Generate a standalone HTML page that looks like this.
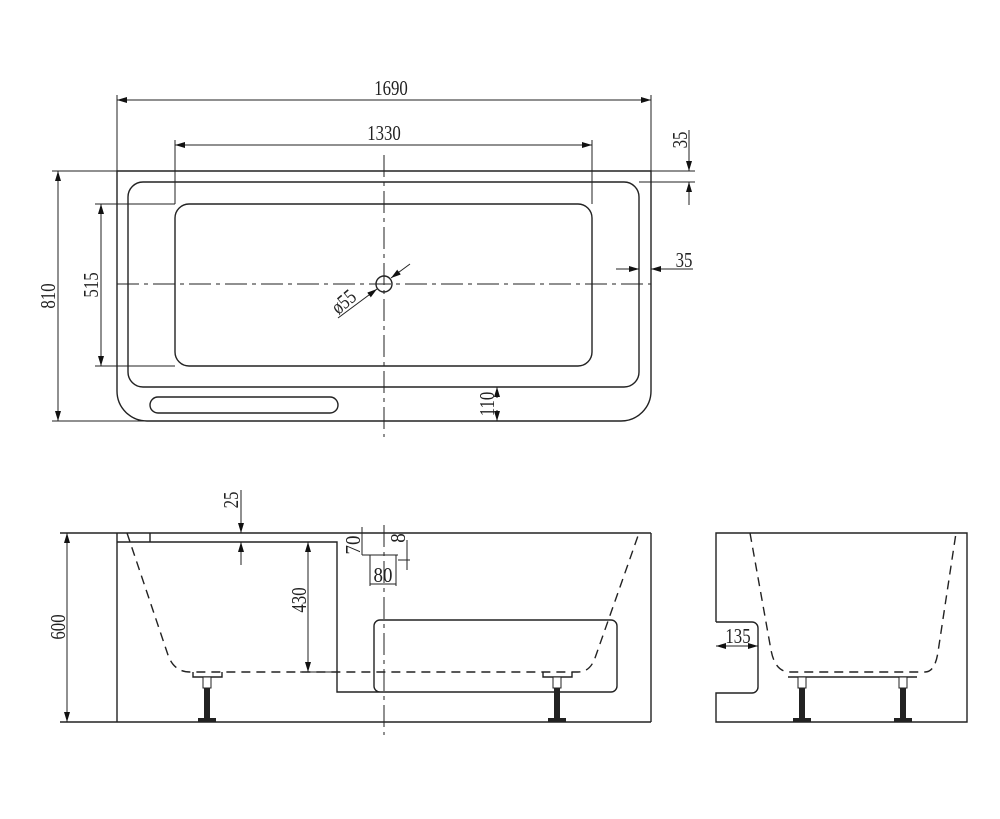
<!DOCTYPE html>
<html><head><meta charset="utf-8"><style>
html,body{margin:0;padding:0;background:#fff;}
svg{display:block}
text{font-family:"Liberation Serif",serif;font-size:21px;fill:#222;}
</style></head><body>
<svg width="1000" height="819" viewBox="0 0 1000 819" xmlns="http://www.w3.org/2000/svg">
<defs>
<marker id="a" viewBox="0 0 10 6" refX="10" refY="3" markerWidth="10" markerHeight="6" orient="auto-start-reverse" markerUnits="userSpaceOnUse"><path d="M0,0 L10,3 L0,6z" fill="#111"/></marker>
</defs>
<g fill="none" stroke="#222" stroke-width="1.4">
<path d="M117,171 H651 V391 A30,30 0 0 1 621,421 H147 A30,30 0 0 1 117,391 Z"/>
<rect x="128" y="182" width="511" height="205" rx="15"/>
<rect x="175" y="204" width="417" height="162" rx="14"/>
<rect x="150" y="397" width="188" height="16" rx="8"/>
<circle cx="384" cy="284" r="8"/>
<g stroke-width="1" stroke-dasharray="22,5,4,5">
<line x1="117" y1="284" x2="651" y2="284"/>
<line x1="384" y1="155" x2="384" y2="437"/>
</g>
<g stroke-width="1">
<line x1="117" y1="95" x2="117" y2="171"/><line x1="651" y1="95" x2="651" y2="171"/>
<line x1="117" y1="100" x2="651" y2="100" marker-start="url(#a)" marker-end="url(#a)"/>
<line x1="175" y1="140" x2="175" y2="204"/><line x1="592" y1="140" x2="592" y2="204"/>
<line x1="175" y1="145" x2="592" y2="145" marker-start="url(#a)" marker-end="url(#a)"/>
<line x1="52" y1="171" x2="117" y2="171"/><line x1="52" y1="421" x2="147" y2="421"/>
<line x1="58" y1="171" x2="58" y2="421" marker-start="url(#a)" marker-end="url(#a)"/>
<line x1="95" y1="204" x2="175" y2="204"/><line x1="95" y1="366" x2="175" y2="366"/>
<line x1="101" y1="204" x2="101" y2="366" marker-start="url(#a)" marker-end="url(#a)"/>
<line x1="651" y1="171" x2="695" y2="171"/><line x1="639" y1="182" x2="695" y2="182"/>
<line x1="689" y1="130" x2="689" y2="171" marker-end="url(#a)"/>
<line x1="689" y1="205" x2="689" y2="182" marker-end="url(#a)"/>
<line x1="616" y1="269" x2="639" y2="269" marker-end="url(#a)"/>
<line x1="693" y1="269" x2="651" y2="269" marker-end="url(#a)"/>
<line x1="497" y1="398" x2="497" y2="387" marker-end="url(#a)"/>
<line x1="497" y1="410" x2="497" y2="421" marker-end="url(#a)"/>
<line x1="338" y1="318" x2="377" y2="289" marker-end="url(#a)"/>
<line x1="410" y1="264" x2="391" y2="278" marker-end="url(#a)"/>
</g>

<line x1="60" y1="533" x2="651" y2="533"/>
<line x1="60" y1="722" x2="651" y2="722"/>
<line x1="117" y1="533" x2="117" y2="722"/>
<line x1="651" y1="533" x2="651" y2="722"/>
<line x1="150" y1="533" x2="150" y2="542"/>
<path d="M117,542 H337 V692 H611 A6,6 0 0 0 617,686 V626 A6,6 0 0 0 611,620 H380 A6,6 0 0 0 374,626 V686 A6,6 0 0 0 380,692"/>
<path stroke-dasharray="9,6" d="M127,533 L168,655 Q174,672 190,672 H578 Q590,672 595,658 L639,533"/>
<path d="M193,672 V677 H222 V672"/><path d="M543,672 V677 H572 V672"/>
<g stroke-width="1">
<line x1="241" y1="490" x2="241" y2="533" marker-end="url(#a)"/>
<line x1="241" y1="565" x2="241" y2="542" marker-end="url(#a)"/>
<line x1="308" y1="542" x2="308" y2="672" marker-start="url(#a)" marker-end="url(#a)"/>
<line x1="300" y1="672" x2="340" y2="672"/>
<line x1="67" y1="533" x2="67" y2="722" marker-start="url(#a)" marker-end="url(#a)"/>
<line x1="362" y1="527" x2="362" y2="555"/>
<line x1="362" y1="555" x2="398" y2="555"/>
<path d="M370,555 V586 M396,555 V586"/>
<line x1="370" y1="584" x2="396" y2="584"/>
<line x1="407" y1="540" x2="407" y2="570"/>
<line x1="398" y1="560" x2="410" y2="560"/>
<line x1="384" y1="525" x2="384" y2="735" stroke-dasharray="22,5,4,5"/>
</g>

<path d="M716,622 V533 H967 V722 H716 V693 H752 A6,6 0 0 0 758,687 V628 A6,6 0 0 0 752,622 H716"/>
<path stroke-dasharray="9,6" d="M750,533 L771,650 Q775,672 790,672 H925 Q935,672 938,652 L956,533"/>
<line x1="788" y1="677" x2="917" y2="677"/>
<line x1="716" y1="646" x2="758" y2="646" stroke-width="1" marker-start="url(#a)" marker-end="url(#a)"/>
</g>
<g fill="#222">
<g transform="translate(207,0)"><rect x="-4" y="677" width="8" height="11" fill="#fff" stroke="#222"/><rect x="-3" y="688" width="6" height="30"/><rect x="-9" y="718" width="18" height="4"/></g>
<g transform="translate(557,0)"><rect x="-4" y="677" width="8" height="11" fill="#fff" stroke="#222"/><rect x="-3" y="688" width="6" height="30"/><rect x="-9" y="718" width="18" height="4"/></g>
<g transform="translate(802,0)"><rect x="-4" y="677" width="8" height="11" fill="#fff" stroke="#222"/><rect x="-3" y="688" width="6" height="30"/><rect x="-9" y="718" width="18" height="4"/></g>
<g transform="translate(903,0)"><rect x="-4" y="677" width="8" height="11" fill="#fff" stroke="#222"/><rect x="-3" y="688" width="6" height="30"/><rect x="-9" y="718" width="18" height="4"/></g>
</g>
<g text-anchor="middle">
<text transform="translate(391,95) scale(0.8,1)">1690</text>
<text transform="translate(384,140) scale(0.8,1)">1330</text>
<text transform="translate(55,296) rotate(-90) scale(0.8,1)">810</text>
<text transform="translate(98,285) rotate(-90) scale(0.8,1)">515</text>
<text transform="translate(687,140) rotate(-90) scale(0.8,1)">35</text>
<text transform="translate(684,267) scale(0.8,1)">35</text>
<text transform="translate(494,404) rotate(-90) scale(0.8,1)">110</text>
<text transform="translate(348,307) rotate(-40) scale(0.8,1)">ø55</text>
<text transform="translate(238,500) rotate(-90) scale(0.8,1)">25</text>
<text transform="translate(306,600) rotate(-90) scale(0.8,1)">430</text>
<text transform="translate(65,627) rotate(-90) scale(0.8,1)">600</text>
<text transform="translate(360,545) rotate(-90) scale(0.9,1)">70</text>
<text transform="translate(405,538) rotate(-90) scale(0.9,1)">8</text>
<text transform="translate(383,582) scale(0.9,1)">80</text>
<text transform="translate(738,643) scale(0.8,1)">135</text>
</g>
</svg>
</body></html>
